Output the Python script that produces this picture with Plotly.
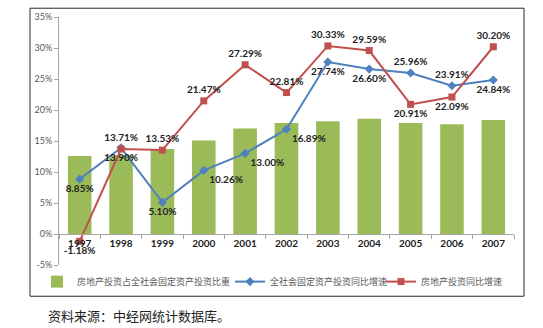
import plotly.graph_objects as go

# 年份与三组数据
years = ["1997", "1998", "1999", "2000", "2001", "2002", "2003", "2004", "2005", "2006", "2007"]
share_pct = [12.6, 12.7, 13.7, 15.1, 17.0, 17.9, 18.2, 18.6, 17.9, 17.7, 18.4]
fixed_growth = [8.85, 13.90, 5.10, 10.26, 13.00, 16.89, 27.74, 26.60, 25.96, 23.91, 24.84]
estate_growth = [-1.18, 13.71, 13.53, 21.47, 27.29, 22.81, 30.33, 29.59, 20.91, 22.09, 30.20]
y_ticks = [-5, 0, 5, 10, 15, 20, 25, 30, 35]

names = ["房地产投资占全社会固定资产投资比重", "全社会固定资产投资同比增速", "房地产投资同比增速"]
source_text = "资料来源：中经网统计数据库。"

blue_pos = ["bottom center", "bottom center", "bottom center", "bottom right", "bottom right",
            "bottom right", "bottom center", "bottom center", "top center", "top center", "bottom center"]
red_pos = ["bottom center", "top center", "top center", "top center", "top center", "top center",
           "top center", "top center", "bottom center", "bottom center", "top center"]

label_font = dict(family="Lato, Liberation Sans", size=10, color="#222222", weight="bold")

fig = go.Figure()
fig.add_trace(go.Bar(
    x=years, y=share_pct, name=names[0], legend="legend",
    marker=dict(color="#9BBB59", line=dict(width=0)), width=0.57,
))
fig.add_trace(go.Scatter(
    x=years, y=fixed_growth, name=names[1], legend="legend2", mode="lines+markers+text",
    line=dict(color="#4F81BD", width=2),
    marker=dict(symbol="diamond", size=7, color="#4F81BD"),
    text=[f"{v:.2f}%" for v in fixed_growth], textposition=blue_pos,
    textfont=label_font,
))
fig.add_trace(go.Scatter(
    x=years, y=estate_growth, name=names[2], legend="legend3", mode="lines+markers+text",
    line=dict(color="#C0504D", width=2),
    marker=dict(symbol="square", size=7, color="#C0504D"),
    text=[f"{v:.2f}%" for v in estate_growth], textposition=red_pos,
    textfont=label_font,
))

W, H = 543, 328
ml, mr, mt, mb = 59, 29, 11, 63
pw, ph = W - ml - mr, H - mt - mb

def px_x(x):
    return (x - ml) / pw

def px_y(y):
    return (H - mb - y) / ph

def legend_at(left_px):
    return dict(
        orientation="h", x=px_x(left_px), y=px_y(282), xanchor="left", yanchor="middle",
        font=dict(family="Noto Sans CJK SC", size=9, color="#595959"),
        itemwidth=30, bgcolor="rgba(0,0,0,0)", borderwidth=0,
    )

fig.update_layout(
    width=W, height=H,
    margin=dict(l=ml, r=mr, t=mt, b=mb),
    paper_bgcolor="white", plot_bgcolor="white",
    bargap=0.43,
    showlegend=True,
    legend=legend_at(37),
    legend2=legend_at(230),
    legend3=legend_at(381),
    xaxis=dict(
        type="category", range=[-0.5, 10.5],
        anchor="free", position=5 / 40,
        showline=True, linecolor="#A6A6A6", linewidth=1,
        ticks="outside", ticklen=4, tickcolor="#A6A6A6", tickson="boundaries",
        tickfont=dict(family="Lato, Liberation Sans", size=10, color="#222222", weight="bold"),
        showgrid=False, zeroline=False,
    ),
    yaxis=dict(
        range=[-5, 35], tickvals=y_ticks, ticktext=[f"{v}%" for v in y_ticks],
        showline=True, linecolor="#A6A6A6", linewidth=1,
        ticks="outside", ticklen=4, tickcolor="#A6A6A6",
        tickfont=dict(family="Lato, Liberation Sans", size=9, color="#595959"),
        showgrid=False, zeroline=False,
    ),
    shapes=[dict(
        type="rect", xref="paper", yref="paper",
        x0=px_x(30), x1=px_x(524), y0=px_y(297), y1=px_y(2),
        line=dict(color="#262626", width=1), fillcolor="rgba(0,0,0,0)", layer="below",
    )],
    annotations=[dict(
        text=source_text, xref="paper", yref="paper",
        x=px_x(46), y=px_y(317), xanchor="left", yanchor="middle", showarrow=False,
        font=dict(family="Noto Sans CJK SC", size=13, color="#222222"),
    )],
)

fig.write_html("out.html")
